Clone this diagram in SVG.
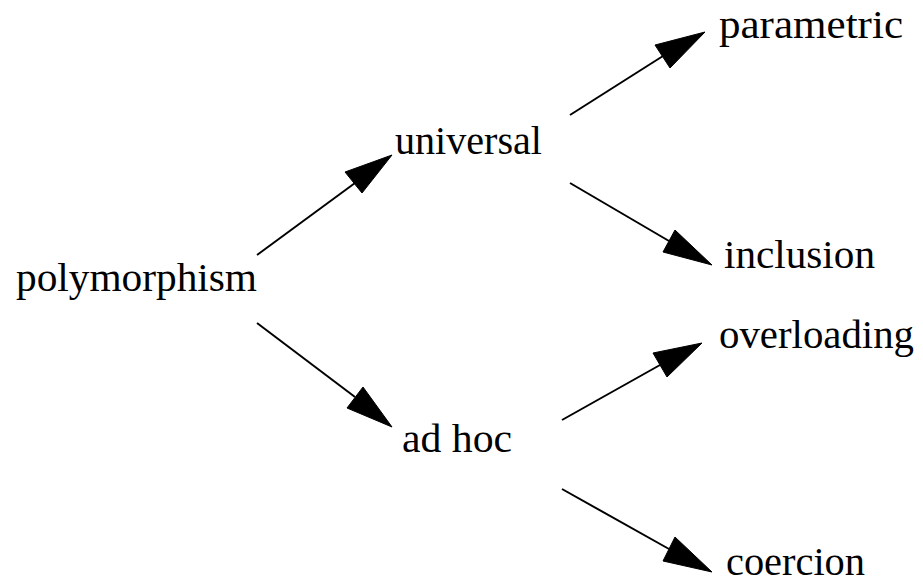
<svg xmlns="http://www.w3.org/2000/svg" width="923" height="583" viewBox="0 0 923 583">
<style>
text{font-family:"Liberation Serif","Times New Roman",serif;font-size:40px;fill:#000}
.e line{stroke:#000;stroke-width:2}
.e polygon{fill:#000;stroke:#000;stroke-width:1}
</style>
<rect width="923" height="583" fill="#fff"/>
<g id="edges" class="e">
<line x1="257" y1="255" x2="355" y2="183"/>
<polygon points="392,155 345,172 362,193"/>
<line x1="570" y1="115" x2="663" y2="56"/>
<polygon points="705,32 655,45 670,68"/>
<line x1="570" y1="183" x2="669" y2="241"/>
<polygon points="712,265 675,230 663,252"/>
<line x1="257" y1="323" x2="355" y2="397"/>
<polygon points="392,427 363,387 347,408"/>
<line x1="562" y1="420" x2="660" y2="365"/>
<polygon points="702,343 653,353 667,377"/>
<line x1="562" y1="489" x2="669" y2="549"/>
<polygon points="712,572 675,537 663,561"/>
</g>
<g id="polymorphism"><text x="16" y="291" textLength="241" lengthAdjust="spacingAndGlyphs">polymorphism</text></g>
<g id="universal"><text x="395" y="154" textLength="147" lengthAdjust="spacingAndGlyphs">universal</text></g>
<g id="adhoc"><text x="402" y="452" textLength="110" lengthAdjust="spacingAndGlyphs">ad hoc</text></g>
<g id="parametric"><text x="719" y="38" textLength="184" lengthAdjust="spacingAndGlyphs">parametric</text></g>
<g id="inclusion"><text x="724" y="268" textLength="151" lengthAdjust="spacingAndGlyphs">inclusion</text></g>
<g id="overloading"><text x="719" y="348" textLength="195" lengthAdjust="spacingAndGlyphs">overloading</text></g>
<g id="coercion"><text x="726" y="575" textLength="139" lengthAdjust="spacingAndGlyphs">coercion</text></g>
</svg>
